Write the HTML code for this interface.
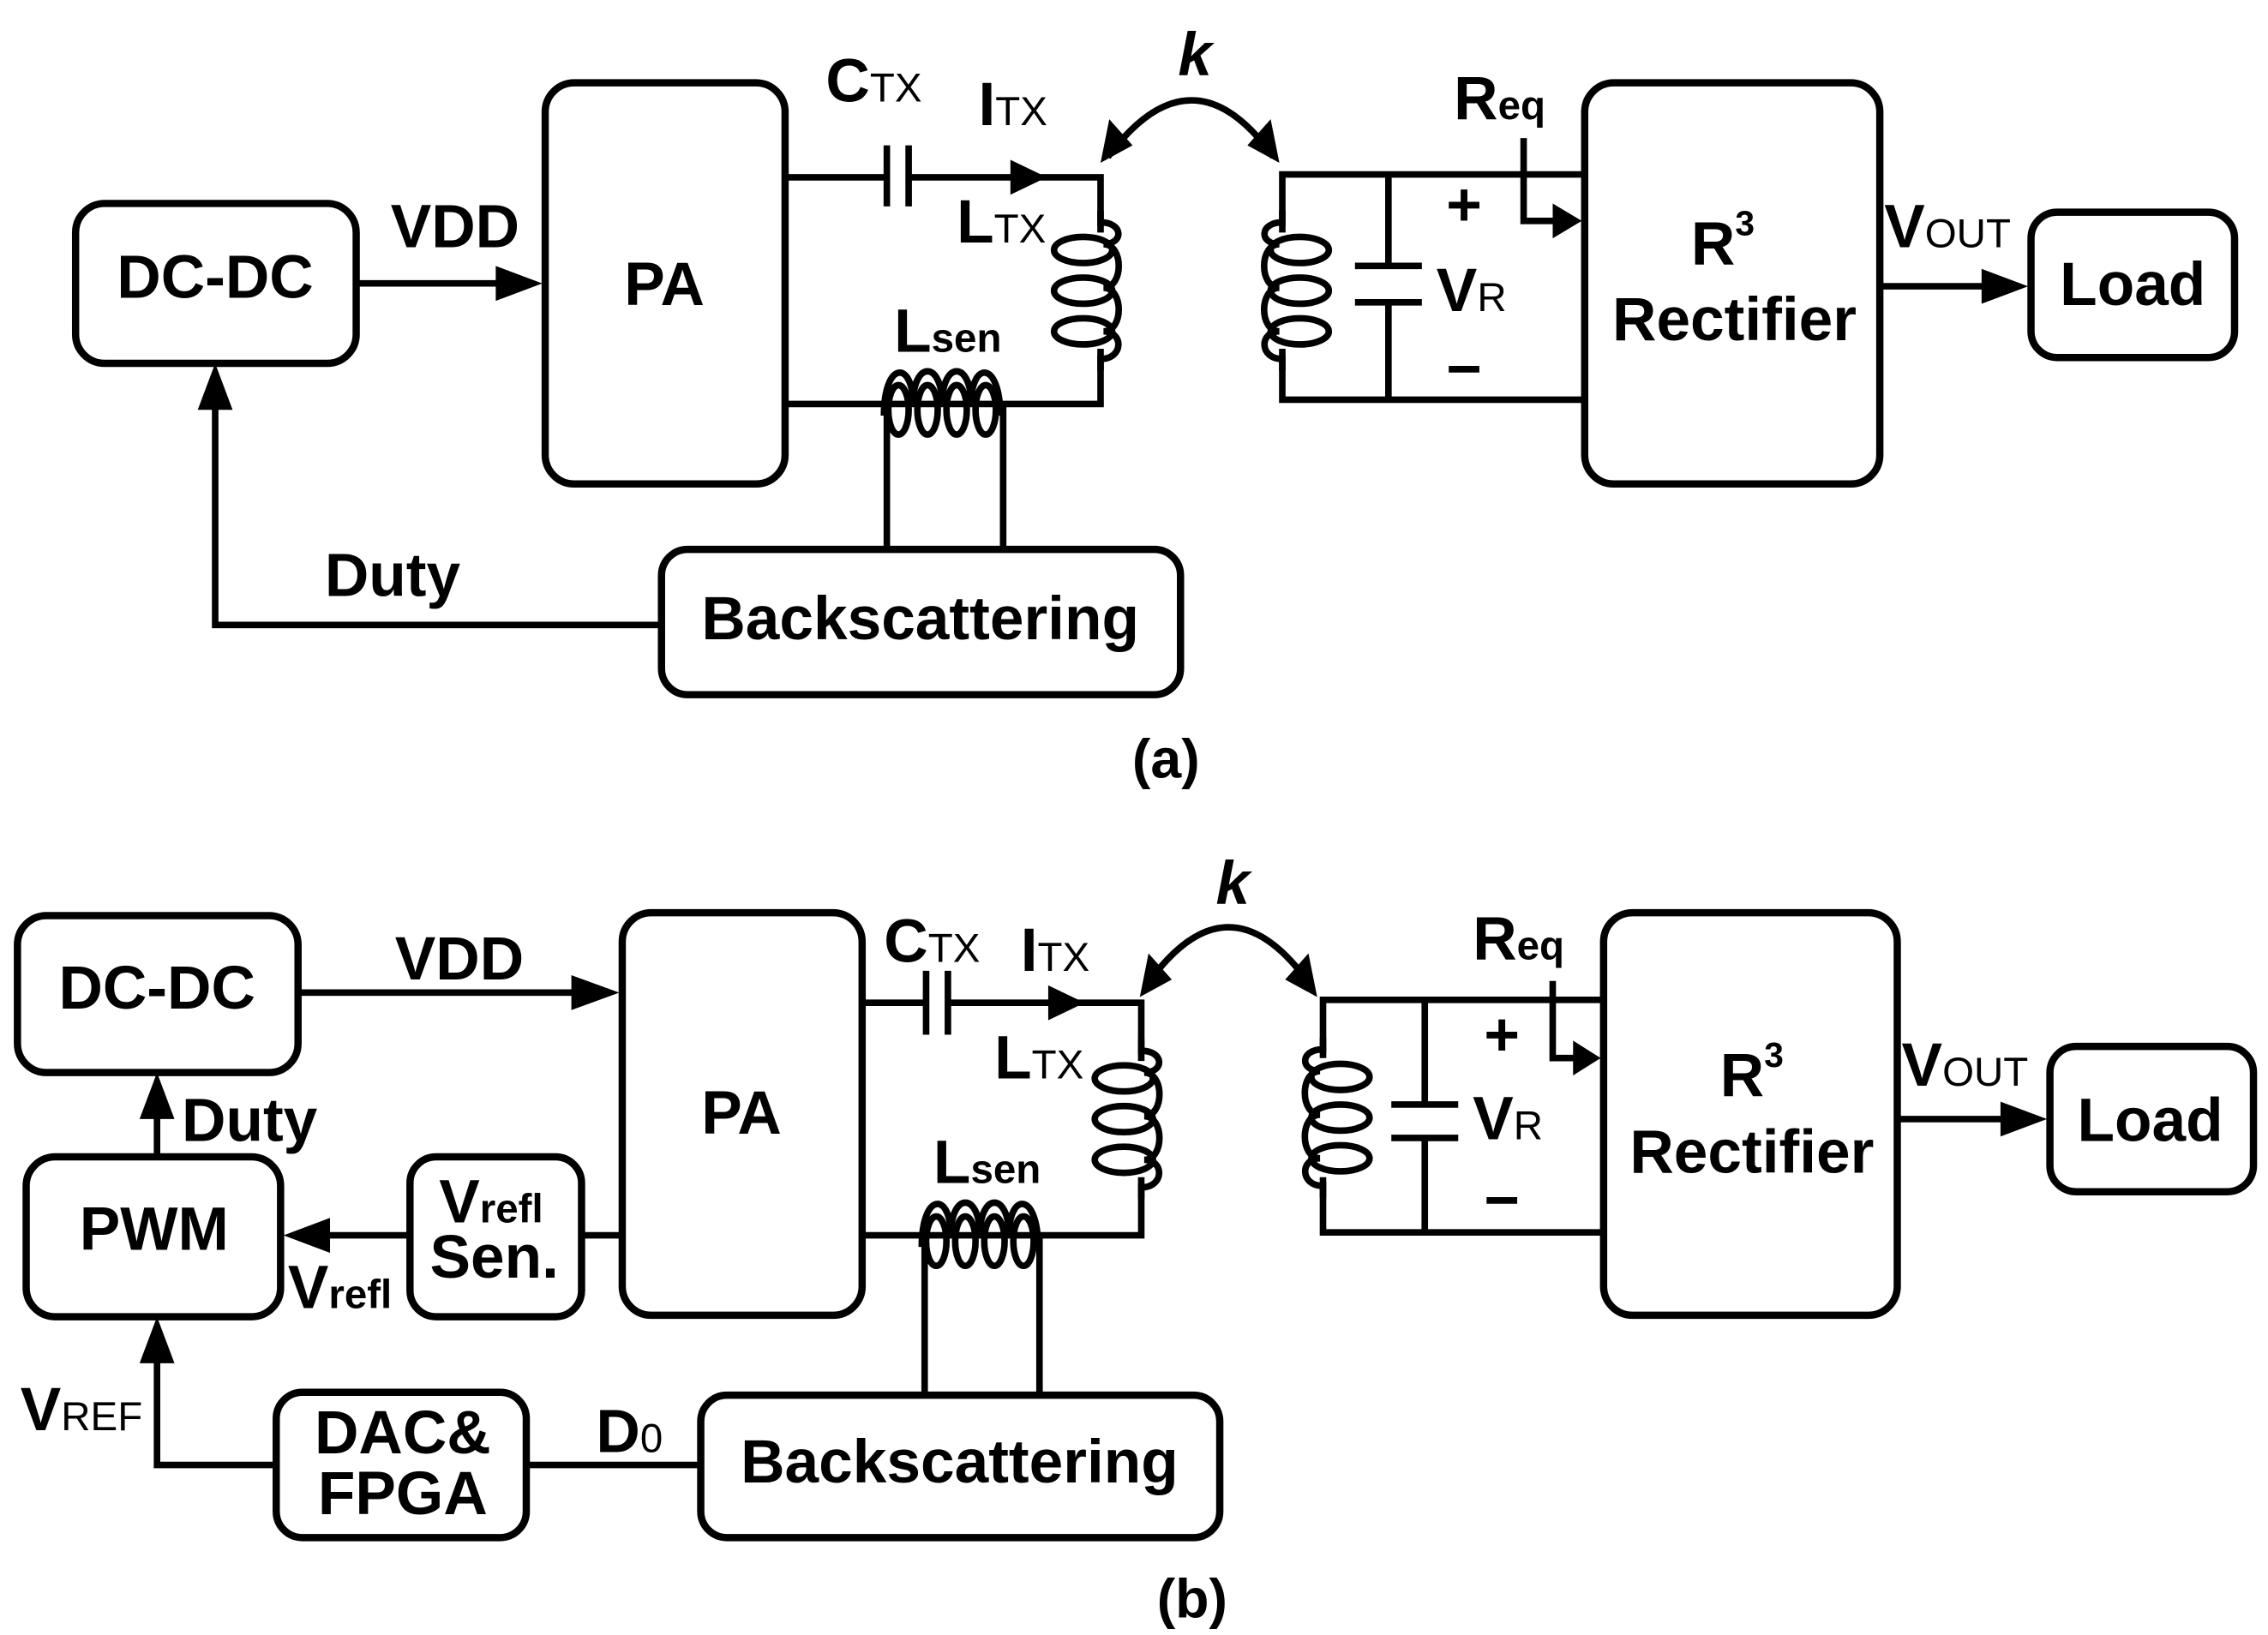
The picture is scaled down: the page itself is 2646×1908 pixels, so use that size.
<!DOCTYPE html>
<html><head><meta charset="utf-8"><style>
html,body{margin:0;padding:0;background:#fff;}
svg{display:block}
text{font-family:"Liberation Sans",Arial,sans-serif;font-weight:bold;fill:#000}
</style></head><body>
<svg width="2646" height="1908" viewBox="0 0 1560 1125" preserveAspectRatio="none" xmlns="http://www.w3.org/2000/svg">
<defs>
<g id="coil" fill="none" stroke="#000" stroke-width="4.5">
<path d="M0,-55 V-47 C16,-47 16,-32 2,-32 M2,-32 C16,-32 16,-2 2,-2 M2,-2 C16,-2 16,28 2,28 M2,28 C16,28 16,47 0,47 V55"/>
<ellipse cx="-12" cy="-28" rx="20" ry="9"/>
<ellipse cx="-12" cy="0" rx="20" ry="9"/>
<ellipse cx="-12" cy="28" rx="20" ry="9"/>
</g>
<g id="lsen" fill="none" stroke="#000" stroke-width="4.5">
<path d="M-42,8 C-42,-30 -22,-30 -22,0 C-22,-30 -2,-30 -2,0 C-2,-30 18,-30 18,0 C18,-30 38,-30 38,8"/>
<ellipse cx="-32" cy="4" rx="7" ry="17"/>
<ellipse cx="-12" cy="4" rx="7" ry="17"/>
<ellipse cx="8" cy="4" rx="7" ry="17"/>
<ellipse cx="28" cy="4" rx="7" ry="17"/>
</g>
</defs>

<g fill="none" stroke="#000" stroke-width="5" stroke-linejoin="round">
<rect x="52" y="140" width="193" height="110" rx="20"/>
<rect x="375" y="57" width="165" height="276" rx="20"/>
<rect x="455" y="378" width="357" height="100" rx="18"/>
<rect x="1090" y="57" width="203" height="276" rx="20"/>
<rect x="1397" y="146" width="140" height="100" rx="18"/>
<rect x="12" y="630" width="193" height="108" rx="20"/>
<rect x="18" y="796" width="175" height="110" rx="20"/>
<rect x="282" y="796" width="118" height="110" rx="18"/>
<rect x="428" y="628" width="165" height="277" rx="20"/>
<rect x="190" y="958" width="172" height="100" rx="18"/>
<rect x="482" y="960" width="357" height="98" rx="18"/>
<rect x="1103" y="628" width="202" height="277" rx="20"/>
<rect x="1410" y="720" width="140" height="100" rx="18"/>
</g>

<g fill="none" stroke="#000" stroke-width="4.5">
<path d="M245,195 H345"/>
<path d="M455,430 H148 V280"/>
<path d="M540,122 H610 M625,122 H757 V160"/>
<path d="M610,100 V142 M625,100 V142"/>
<path d="M757,240 V278 H540"/>
<path d="M610,278 V378 M690,278 V378"/>
<path d="M882,160 V120 H1090 M882,240 V275 H1090"/>
<path d="M955,120 V183 M932,183 H978 M932,208 H978 M955,208 V275"/>
<path d="M1048,95 V152 H1070"/>
<path d="M1293,197 H1365"/>
<path d="M762,108 Q820,30 876,108"/>
<path d="M205,683 H395"/>
<path d="M108,796 V765"/>
<path d="M428,850 H400 M282,850 H225"/>
<path d="M190,1008 H108 V935"/>
<path d="M362,1008 H482"/>
<path d="M593,690 H637 M652,690 H785 V730"/>
<path d="M637,668 V712 M652,668 V712"/>
<path d="M785,810 V850 H593"/>
<path d="M636,850 V960 M715,850 V960"/>
<path d="M910,728 V688 H1103 M910,810 V848 H1103"/>
<path d="M980,688 V760 M957,760 H1003 M957,783 H1003 M980,783 V848"/>
<path d="M1068,675 V728 H1085"/>
<path d="M1305,770 H1378"/>
<path d="M790,676 Q845,600 900,676"/>
</g>

<use href="#coil" transform="translate(757,200)"/>
<use href="#coil" transform="translate(882,200) scale(-1,1)"/>
<use href="#lsen" transform="translate(650,278)"/>
<use href="#coil" transform="translate(785,770)"/>
<use href="#coil" transform="translate(910,769) scale(-1,1)"/>
<use href="#lsen" transform="translate(676,850)"/>

<g fill="#000">
<polygon points="373,195 341,183 341,207"/>
<polygon points="148,250 136,282 160,282"/>
<polygon points="720,122 695,110 695,134"/>
<polygon points="1088,152 1068,140 1068,164"/>
<polygon points="1395,197 1363,185 1363,209"/>
<polygon points="757,112 763,82 779,100"/>
<polygon points="880,112 874,82 858,100"/>
<polygon points="426,683 393,671 393,695"/>
<polygon points="108,738 96,770 120,770"/>
<polygon points="195,850 227,838 227,862"/>
<polygon points="108,906 96,938 120,938"/>
<polygon points="746,690 721,678 721,702"/>
<polygon points="1101,728 1082,716 1082,740"/>
<polygon points="1408,770 1376,758 1376,782"/>
<polygon points="784,686 790,656 806,674"/>
<polygon points="906,686 900,656 884,674"/>
</g>

<g font-size="42" text-anchor="middle">
<text x="148" y="205">DC-DC</text>
<text x="457" y="210">PA</text>
<text x="633" y="440">Backscattering</text>
<text x="1467" y="210">Load</text>
<text x="1185" y="182">R<tspan font-size="24" dy="-20">3</tspan></text>
<text x="1193" y="234">Rectifier</text>
<text x="313" y="170">VDD</text>
<text x="270" y="410">Duty</text>
<text x="802" y="535" font-size="38">(a)</text>
<text x="822" y="52" font-style="italic">k</text>
<text x="1007" y="155">+</text>
<text x="1007" y="268">−</text>
</g>
<g font-size="42">
<text x="568" y="70">C<tspan font-size="28" font-weight="normal">TX</tspan></text>
<text x="673" y="86">I<tspan font-size="28" font-weight="normal">TX</tspan></text>
<text x="658" y="167">L<tspan font-size="28" font-weight="normal">TX</tspan></text>
<text x="615" y="242">L<tspan font-size="28">sen</tspan></text>
<text x="988" y="214">V<tspan font-size="28" font-weight="normal">R</tspan></text>
<text x="1000" y="82">R<tspan font-size="28">eq</tspan></text>
<text x="1296" y="170">V<tspan font-size="28" font-weight="normal">OUT</tspan></text>
</g>

<g font-size="42" text-anchor="middle">
<text x="108" y="694">DC-DC</text>
<text x="106" y="860">PWM</text>
<text x="340" y="879">Sen.</text>
<text x="510" y="780">PA</text>
<text x="277" y="1000">DAC&amp;</text>
<text x="277" y="1042">FPGA</text>
<text x="660" y="1020">Backscattering</text>
<text x="1479" y="785">Load</text>
<text x="1205" y="754">R<tspan font-size="24" dy="-20">3</tspan></text>
<text x="1205" y="807">Rectifier</text>
<text x="316" y="674">VDD</text>
<text x="820" y="1113" font-size="38">(b)</text>
<text x="848" y="622" font-style="italic">k</text>
<text x="1033" y="726">+</text>
<text x="1033" y="840">−</text>
</g>
<g font-size="42">
<text x="125" y="785">Duty</text>
<text x="302" y="841">V<tspan font-size="28">refl</tspan></text>
<text x="198" y="900">V<tspan font-size="28">refl</tspan></text>
<text x="14" y="984">V<tspan font-size="28" font-weight="normal">REF</tspan></text>
<text x="410" y="999">D<tspan font-size="28" font-weight="normal">0</tspan></text>
<text x="608" y="662">C<tspan font-size="28" font-weight="normal">TX</tspan></text>
<text x="702" y="668">I<tspan font-size="28" font-weight="normal">TX</tspan></text>
<text x="684" y="742">L<tspan font-size="28" font-weight="normal">TX</tspan></text>
<text x="642" y="814">L<tspan font-size="28">sen</tspan></text>
<text x="1013" y="784">V<tspan font-size="28" font-weight="normal">R</tspan></text>
<text x="1013" y="660">R<tspan font-size="28">eq</tspan></text>
<text x="1308" y="747">V<tspan font-size="28" font-weight="normal">OUT</tspan></text>
</g>
</svg>
</body></html>
